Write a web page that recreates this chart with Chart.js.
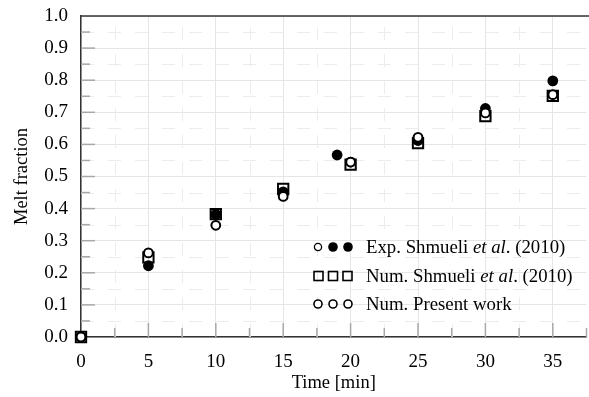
<!DOCTYPE html>
<html>
<head>
<meta charset="utf-8">
<script src="https://cdn.jsdelivr.net/npm/chart.js@4"></script>
<style>
  body { margin: 0; background: #fff; }
  #wrap { position: relative; width: 589px; height: 397px; }
  #legend {
    position: absolute; left: 312px; top: 233px;
    font-family: "Liberation Serif", "Times New Roman", serif; font-size: 18.8px; color: #000;
  }
  #legend .row { display: flex; align-items: center; height: 28.5px; }
  #legend svg { margin-right: 10px; }
</style>
</head>
<body>
<div id="wrap">
  <canvas id="myChart" width="589" height="397"></canvas>
  <div id="legend">
    <div class="row">
      <svg width="44" height="14"><circle cx="6" cy="7" r="3.6" fill="#fff" stroke="#000" stroke-width="1.3"/><circle cx="21" cy="7" r="4.8" fill="#000"/><circle cx="36" cy="7" r="4.8" fill="#000"/></svg>
      <span>Exp. Shmueli <i>et al</i>. (2010)</span>
    </div>
    <div class="row">
      <svg width="44" height="14"><rect x="2" y="2.5" width="9" height="9" fill="none" stroke="#000" stroke-width="1.6"/><rect x="16.5" y="2.5" width="9" height="9" fill="none" stroke="#000" stroke-width="1.6"/><rect x="31" y="2.5" width="9" height="9" fill="none" stroke="#000" stroke-width="1.6"/></svg>
      <span>Num. Shmueli <i>et al</i>. (2010)</span>
    </div>
    <div class="row">
      <svg width="44" height="14"><circle cx="6" cy="7" r="4" fill="#fff" stroke="#000" stroke-width="1.6"/><circle cx="21" cy="7" r="4" fill="#fff" stroke="#000" stroke-width="1.6"/><circle cx="36" cy="7" r="4" fill="#fff" stroke="#000" stroke-width="1.6"/></svg>
      <span>Num. Present work</span>
    </div>
  </div>
</div>
<script>
// time [min] and melt fraction
const exp_time = [0, 5, 10, 15, 19, 20, 25, 30, 35];
const exp_melt = [0, 0.222, 0.382, 0.452, 0.567, 0.545, 0.612, 0.712, 0.798];

const num_time = [0, 5, 10, 15, 20, 25, 30, 35];
const num_melt = [0, 0.248, 0.383, 0.461, 0.537, 0.604, 0.688, 0.751];

const present_time = [0, 5, 10, 15, 20, 25, 30, 35];
const present_melt = [0, 0.262, 0.348, 0.438, 0.545, 0.622, 0.698, 0.755];

// last entry is the axis end, it gets no label
const x_ticks = [0, 5, 10, 15, 20, 25, 30, 35, 37.5];
const y_ticks = [0, 0.1, 0.2, 0.3, 0.4, 0.5, 0.6, 0.7, 0.8, 0.9, 1.0];

const toPoints = (xs, ys) => xs.map((x, i) => ({ x: x, y: ys[i] }));

const serif = "'Liberation Serif', 'Times New Roman', serif";

// minor dashed grid, inner tick marks and top frame line
const framePlugin = {
    id: "frame",
    beforeDatasetsDraw(chart) {
        const { ctx, chartArea: a, scales } = chart;
        const xs = scales.x, ys = scales.y;
        ctx.save();
        ctx.strokeStyle = "#ececec";
        ctx.lineWidth = 1;
        ctx.setLineDash([13, 14]);
        for (let v = 2.5; v < 37.5; v += 5) {
            const px = Math.round(xs.getPixelForValue(v)) + 0.5;
            ctx.beginPath();
            ctx.moveTo(px, a.bottom);
            ctx.lineTo(px, a.top);
            ctx.stroke();
        }
        for (let v = 0.05; v < 1; v += 0.1) {
            const py = Math.round(ys.getPixelForValue(v)) + 0.5;
            ctx.beginPath();
            ctx.moveTo(a.left, py);
            ctx.lineTo(a.right, py);
            ctx.stroke();
        }
        ctx.setLineDash([]);
        ctx.strokeStyle = "#a8a8a8";
        ctx.lineWidth = 1.5;
        for (let i = 1; i <= 15; i++) {
            const px = xs.getPixelForValue(i * 2.5);
            const len = i % 2 === 0 ? 14 : 9;
            ctx.beginPath();
            ctx.moveTo(px, a.bottom);
            ctx.lineTo(px, a.bottom - len);
            ctx.stroke();
        }
        for (let i = 1; i <= 19; i++) {
            const py = ys.getPixelForValue(i * 0.05);
            const len = i % 2 === 0 ? 14 : 9;
            ctx.beginPath();
            ctx.moveTo(a.left, py);
            ctx.lineTo(a.left + len, py);
            ctx.stroke();
        }
        ctx.strokeStyle = "#333";
        ctx.lineWidth = 1.5;
        ctx.beginPath();
        ctx.moveTo(a.left, a.top);
        ctx.lineTo(a.right + 3, a.top);
        ctx.stroke();
        ctx.restore();
    }
};

const ctx = document.getElementById("myChart");

new Chart(ctx, {
    type: "scatter",
    data: {
        datasets: [
            {
                label: "Exp. Shmueli et al. (2010)",
                data: toPoints(exp_time, exp_melt),
                pointStyle: "circle",
                pointRadius: 5.4,
                pointBackgroundColor: "#000",
                pointBorderColor: "#000",
                pointBorderWidth: 0,
                order: 3,
                clip: false
            },
            {
                label: "Num. Shmueli et al. (2010)",
                data: toPoints(num_time, num_melt),
                pointStyle: "rect",
                pointRadius: 7.3,
                pointBackgroundColor: "rgba(0,0,0,0)",
                pointBorderColor: "#000",
                pointBorderWidth: 2,
                order: 2,
                clip: false
            },
            {
                label: "Num. Present work",
                data: toPoints(present_time, present_melt),
                pointStyle: "circle",
                pointRadius: 4.4,
                pointBackgroundColor: "#fff",
                pointBorderColor: "#000",
                pointBorderWidth: 2,
                order: 1,
                clip: false
            }
        ]
    },
    options: {
        responsive: false,
        animation: false,
        layout: { autoPadding: false, padding: { top: 16, right: 2.5, left: 0, bottom: 0 } },
        plugins: {
            legend: { display: false },
            tooltip: { enabled: false }
        },
        scales: {
            x: {
                type: "linear",
                min: 0,
                max: 37.5,
                afterFit: scale => { scale.height = 60; scale.paddingLeft = 0; scale.paddingRight = 0; },
                afterBuildTicks: scale => { scale.ticks = x_ticks.map(v => ({ value: v })); },
                ticks: {
                    padding: 0,
                    color: "#000",
                    font: { family: serif, size: 19, lineHeight: 2.65 },
                    maxRotation: 0,
                    autoSkip: false,
                    callback: v => (v % 5 === 0 ? String(v) : "")
                },
                grid: {
                    color: c => (c.tick && c.tick.value % 5 === 0 ? "#e5e5e5" : "rgba(0,0,0,0)"),
                    lineWidth: 1,
                    drawTicks: false
                },
                border: { color: "#333", width: 1.5 },
                title: {
                    display: true,
                    text: "Time [min]",
                    color: "#000",
                    font: { family: serif, size: 18.5 },
                    padding: { top: 0, bottom: 3 }
                }
            },
            y: {
                type: "linear",
                min: 0,
                max: 1,
                afterFit: scale => { scale.width = 81; scale.paddingTop = 0; scale.paddingBottom = 0; },
                afterBuildTicks: scale => { scale.ticks = y_ticks.map(v => ({ value: v })); },
                ticks: {
                    padding: 13,
                    color: "#000",
                    font: { family: serif, size: 19 },
                    callback: v => v.toFixed(1)
                },
                grid: { color: "#e5e5e5", lineWidth: 1, drawTicks: false },
                border: { color: "#333", width: 1.5 },
                title: {
                    display: true,
                    text: "Melt fraction",
                    color: "#000",
                    font: { family: serif, size: 18.5 },
                    padding: { top: 11, bottom: 0 }
                }
            }
        }
    },
    plugins: [framePlugin]
});
</script>
</body>
</html>
